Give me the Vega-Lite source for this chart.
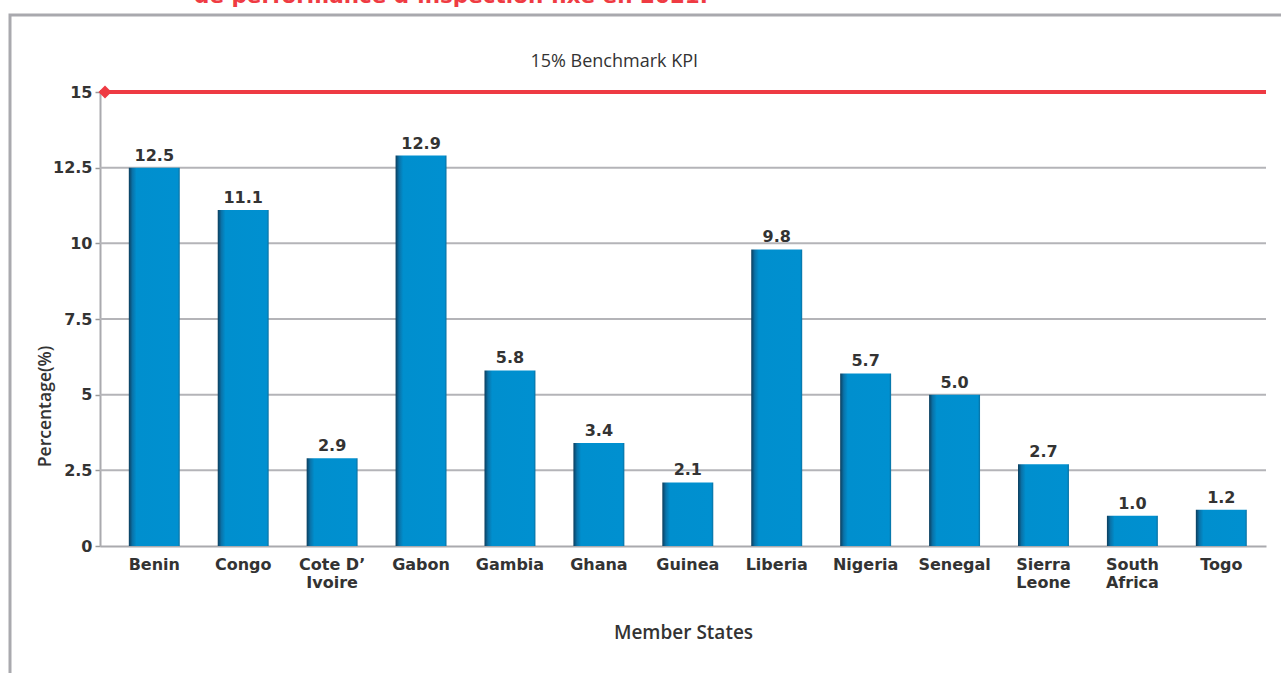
{
  "$schema": "https://vega.github.io/schema/vega-lite/v6.json",
  "width": 1281,
  "height": 673,
  "autosize": {"type": "none"},
  "padding": {"left": 10, "top": 15, "right": -10, "bottom": -15},
  "background": "white",
  "config": {
    "view": {"stroke": "#a9a9ae", "strokeWidth": 3},
    "font": "DejaVu Sans"
  },
  "title": {
    "text": "de performance d’inspection fixe en 2021.",
    "color": "#ef3b43",
    "font": "DejaVu Sans",
    "fontSize": 21.5,
    "fontWeight": "bold",
    "anchor": "start",
    "frame": "group",
    "baseline": "alphabetic",
    "offset": 2,
    "dx": 184,
    "dy": 11
  },
  "datasets": {
    "states": [
      {"state": "Benin", "value": 12.5},
      {"state": "Congo", "value": 11.1},
      {"state": "Cote D’Ivoire", "value": 2.9},
      {"state": "Gabon", "value": 12.9},
      {"state": "Gambia", "value": 5.8},
      {"state": "Ghana", "value": 3.4},
      {"state": "Guinea", "value": 2.1},
      {"state": "Liberia", "value": 9.8},
      {"state": "Nigeria", "value": 5.7},
      {"state": "Senegal", "value": 5.0},
      {"state": "Sierra Leone", "value": 2.7},
      {"state": "South Africa", "value": 1.0},
      {"state": "Togo", "value": 1.2}
    ],
    "gridlines": [{"tick": 2.5}, {"tick": 5}, {"tick": 7.5}, {"tick": 10}, {"tick": 12.5}],
    "benchmark": [{"kpi": 15, "label": "15% Benchmark KPI"}]
  },
  "layer": [
    {
      "data": {"name": "gridlines"},
      "mark": {"type": "rule", "color": "#b4b4b8", "strokeWidth": 2},
      "encoding": {
        "x": {"datum": 0, "type": "quantitative", "scale": {"domain": [0, 1], "range": [90, 1256]}, "axis": null},
        "x2": {"datum": 1},
        "y": {"field": "tick", "type": "quantitative", "title": "Percentage(%)", "scale": {"domain": [0, 15], "range": [531, 77], "nice": false, "zero": true}}
      }
    },
    {
      "data": {"name": "states"},
      "encoding": {
        "x": {
          "field": "state", "type": "nominal", "sort": null,
          "scale": {"range": [90, 1256], "paddingInner": 0.427, "paddingOuter": 0.27, "align": 0.6},
          "axis": {
            "title": "Member States",
            "offset": -142,
            "labelAngle": 0,
            "ticks": false,
            "domainColor": "#aaaaae",
            "domainWidth": 2,
            "labelPadding": 10,
            "labelFont": "DejaVu Sans",
            "labelFontSize": 16,
            "labelFontWeight": "bold",
            "labelColor": "#333333",
            "labelLineHeight": 18,
            "labelExpr": "datum.value == 'Cote D’Ivoire' ? ['Cote D’', 'Ivoire'] : split(datum.value, ' ')",
            "titleFont": "Open Sans",
            "titleFontSize": 19,
            "titleFontWeight": 600,
            "titleColor": "#333333",
            "titleBaseline": "middle",
            "titleY": 86
          }
        },
        "y": {
          "field": "value", "type": "quantitative", "title": "Percentage(%)",
          "axis": {
            "values": [0, 2.5, 5, 7.5, 10, 12.5, 15],
            "labelExpr": "'' + datum.value",
            "offset": -90,
            "grid": false,
            "domainColor": "#aaaaae",
            "domainWidth": 2,
            "tickColor": "#999999",
            "tickSize": 5,
            "tickWidth": 1.5,
            "labelPadding": 3,
            "labelFont": "DejaVu Sans",
            "labelFontSize": 16,
            "labelFontWeight": "bold",
            "labelColor": "#333333",
            "titleFont": "Open Sans",
            "titleFontSize": 17.5,
            "titleFontWeight": 600,
            "titleColor": "#333333",
            "titleAngle": -90,
            "titleAlign": "center",
            "titleBaseline": "middle",
            "titleX": -55,
            "titleY": 391
          }
        }
      },
      "layer": [
        {
          "mark": {
            "type": "bar",
            "color": {
              "gradient": "linear", "x1": 0, "x2": 1, "y1": 0, "y2": 0,
              "stops": [
                {"offset": 0, "color": "#0c3d5c"},
                {"offset": 0.07, "color": "#0a72a8"},
                {"offset": 0.15, "color": "#008fce"},
                {"offset": 0.96, "color": "#0090d0"},
                {"offset": 1, "color": "#0a6f9f"}
              ]
            }
          }
        },
        {
          "mark": {"type": "text", "baseline": "bottom", "dy": -4, "fontSize": 16, "fontWeight": "bold", "font": "DejaVu Sans", "color": "#333333"},
          "encoding": {"text": {"field": "value", "type": "quantitative", "format": ".1f"}}
        }
      ]
    },
    {
      "data": {"name": "benchmark"},
      "encoding": {
        "y": {"field": "kpi", "type": "quantitative", "title": "Percentage(%)"}
      },
      "layer": [
        {
          "mark": {"type": "rule", "color": "#ee3a43", "strokeWidth": 4},
          "encoding": {
            "x": {"datum": 0, "type": "quantitative", "scale": {"domain": [0, 1], "range": [90, 1256]}, "axis": null},
            "x2": {"datum": 1}
          }
        },
        {
          "mark": {"type": "point", "shape": "diamond", "filled": true, "size": 170, "color": "#ee3a43", "opacity": 1},
          "encoding": {
            "x": {"datum": 0.0043, "type": "quantitative", "scale": {"domain": [0, 1], "range": [90, 1256]}, "axis": null}
          }
        },
        {
          "mark": {"type": "text", "dy": -30, "font": "Open Sans", "fontSize": 18, "color": "#333333", "baseline": "middle"},
          "encoding": {
            "x": {"datum": 0.441, "type": "quantitative", "scale": {"domain": [0, 1], "range": [90, 1256]}, "axis": null},
            "text": {"field": "label"}
          }
        }
      ]
    }
  ],
  "resolve": {"scale": {"x": "independent"}}
}
